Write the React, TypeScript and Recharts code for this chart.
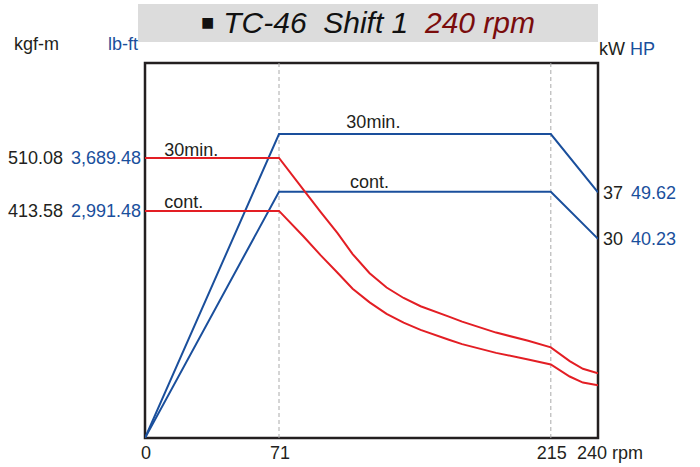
import React from "react";
import {
  LineChart,
  Line,
  XAxis,
  YAxis,
  ReferenceLine,
  ReferenceArea,
  ReferenceDot,
} from "recharts";

// torque curves (kgf-m) vs rpm
const torqueRpm = [0, 71, 84, 93, 102, 110, 119, 128, 137, 146, 161, 168, 186, 203, 215, 225, 232, 240];
const torque30min = [510.08, 510.08, 452, 412, 373, 335, 300, 274, 255, 240, 221, 212, 192, 177, 165, 140, 126, 118];
const torqueCont = [413.58, 413.58, 367, 333, 301, 272, 247, 226, 210, 197, 179, 171, 155, 143, 134, 112, 101, 96];

// power curves (kW) vs rpm
const powerRpm = [0, 71, 215, 240];
const power30min = [0, 45.8, 45.8, 37];
const powerCont = [0, 37.1, 37.1, 30];

const rpmTicks = [0, 71, 215, 240];
const torqueTicks = [413.58, 510.08];
const torqueLbft = ["2,991.48", "3,689.48"];
const powerTicks = [30, 37];
const powerHp = ["40.23", "49.62"];

const RED = "#e31e24";
const BLUE = "#1a4f9c";
const INK = "#231f20";
const FONT = "'Liberation Sans', Arial, sans-serif";
const FS = 18;

const zip = (xs: number[], ys: number[], key: string) =>
  xs.map((x, i) => ({ rpm: x, [key]: ys[i] }));

const LeftTick = ({ x, y, payload }: any) => {
  const i = torqueTicks.indexOf(payload.value);
  return (
    <g fontFamily={FONT} fontSize={FS}>
      <text x={x - 78} y={y} dy="0.35em" textAnchor="end" fill={INK}>
        {payload.value.toFixed(2)}
      </text>
      <text x={x} y={y} dy="0.35em" textAnchor="end" fill={BLUE}>
        {torqueLbft[i]}
      </text>
    </g>
  );
};

const RightTick = ({ x, y, payload }: any) => {
  const i = powerTicks.indexOf(payload.value);
  return (
    <g fontFamily={FONT} fontSize={FS}>
      <text x={x} y={y} dy="0.35em" textAnchor="start" fill={INK}>
        {payload.value}
      </text>
      <text x={x + 28} y={y} dy="0.35em" textAnchor="start" fill={BLUE}>
        {powerHp[i]}
      </text>
    </g>
  );
};

const BottomTick = ({ x, y, payload }: any) => {
  if (payload.value === 240) {
    return (
      <g fontFamily={FONT} fontSize={FS} fill={INK}>
        <text x={x - 6} y={y + 21} textAnchor="middle">240</text>
        <text x={x + 14} y={y + 21} textAnchor="start">rpm</text>
      </g>
    );
  }
  return (
    <text x={x + 1} y={y + 21} textAnchor="middle" fontFamily={FONT} fontSize={FS} fill={INK}>
      {payload.value}
    </text>
  );
};

const seriesLabel = (text: string, offset: number) => ({
  value: text,
  position: "top" as const,
  offset,
  fill: INK,
  fontSize: FS,
  fontFamily: FONT,
});

export default function App() {
  return (
    <div style={{ position: "absolute", left: 0, top: 0, width: 700, height: 467, background: "#fff", fontFamily: FONT }}>
      <div
        style={{
          position: "absolute",
          left: 138,
          top: 4,
          width: 460,
          height: 38,
          background: "#dcdcdc",
          display: "flex",
          alignItems: "center",
          justifyContent: "center",
          fontSize: 30,
          fontStyle: "italic",
          color: "#111",
          whiteSpace: "pre",
        }}
      >
        <span style={{ fontStyle: "normal", fontSize: 22, marginRight: 9 }}>■</span>
        <span>TC-46  Shift 1  </span>
        <span style={{ color: "#7a0c0c" }}>240 rpm</span>
      </div>
      <div style={{ position: "absolute", left: 14, top: 34, fontSize: FS, color: INK }}>kgf-m</div>
      <div style={{ position: "absolute", left: 108, top: 34, fontSize: FS, color: BLUE }}>lb-ft</div>
      <div style={{ position: "absolute", left: 599, top: 39, fontSize: FS, color: INK }}>kW</div>
      <div style={{ position: "absolute", left: 630, top: 39, fontSize: FS, color: BLUE }}>HP</div>

      <LineChart
        width={700}
        height={467}
        margin={{ top: 63, right: 7, left: 5, bottom: 4 }}
        style={{ position: "absolute", left: 0, top: 0 }}
      >
        <XAxis
          type="number"
          dataKey="rpm"
          domain={[0, 240]}
          ticks={rpmTicks}
          tick={<BottomTick />}
          tickSize={0}
          tickMargin={0}
          axisLine={false}
          tickLine={false}
          height={25}
          allowDataOverflow
        />
        <YAxis
          yAxisId="t"
          type="number"
          domain={[0, 683]}
          ticks={torqueTicks}
          tick={<LeftTick />}
          tickSize={0}
          tickMargin={4}
          axisLine={false}
          tickLine={false}
          width={140}
          allowDataOverflow
        />
        <YAxis
          yAxisId="p"
          orientation="right"
          type="number"
          domain={[0, 56.5]}
          ticks={powerTicks}
          tick={<RightTick />}
          tickSize={0}
          tickMargin={5}
          axisLine={false}
          tickLine={false}
          width={95}
          allowDataOverflow
        />
        <ReferenceLine yAxisId="t" x={71} stroke="#aaa" strokeDasharray="4 3" />
        <ReferenceLine yAxisId="t" x={215} stroke="#aaa" strokeDasharray="4 3" />

        <Line
          yAxisId="p"
          data={zip(powerRpm, power30min, "p30")}
          dataKey="p30"
          type="linear"
          stroke={BLUE}
          strokeWidth={2}
          dot={false}
          isAnimationActive={false}
        />
        <Line
          yAxisId="p"
          data={zip(powerRpm, powerCont, "pc")}
          dataKey="pc"
          type="linear"
          stroke={BLUE}
          strokeWidth={2}
          dot={false}
          isAnimationActive={false}
        />
        <Line
          yAxisId="t"
          data={zip(torqueRpm, torque30min, "t30")}
          dataKey="t30"
          type="linear"
          stroke={RED}
          strokeWidth={2}
          dot={false}
          isAnimationActive={false}
        />
        <Line
          yAxisId="t"
          data={zip(torqueRpm, torqueCont, "tc")}
          dataKey="tc"
          type="linear"
          stroke={RED}
          strokeWidth={2}
          dot={false}
          isAnimationActive={false}
        />

        <ReferenceArea
          yAxisId="t"
          x1={0}
          x2={240}
          y1={0}
          y2={683}
          fill="none"
          fillOpacity={0}
          stroke={INK}
          strokeWidth={2.5}
        />

        <ReferenceDot yAxisId="t" x={24.5} y={510.08} r={0} label={seriesLabel("30min.", 2)} />
        <ReferenceDot yAxisId="t" x={20.5} y={413.58} r={0} label={seriesLabel("cont.", 3)} />
        <ReferenceDot yAxisId="p" x={121} y={45.8} r={0} label={seriesLabel("30min.", 6)} />
        <ReferenceDot yAxisId="p" x={119} y={37.1} r={0} label={seriesLabel("cont.", 4)} />
      </LineChart>
    </div>
  );
}
